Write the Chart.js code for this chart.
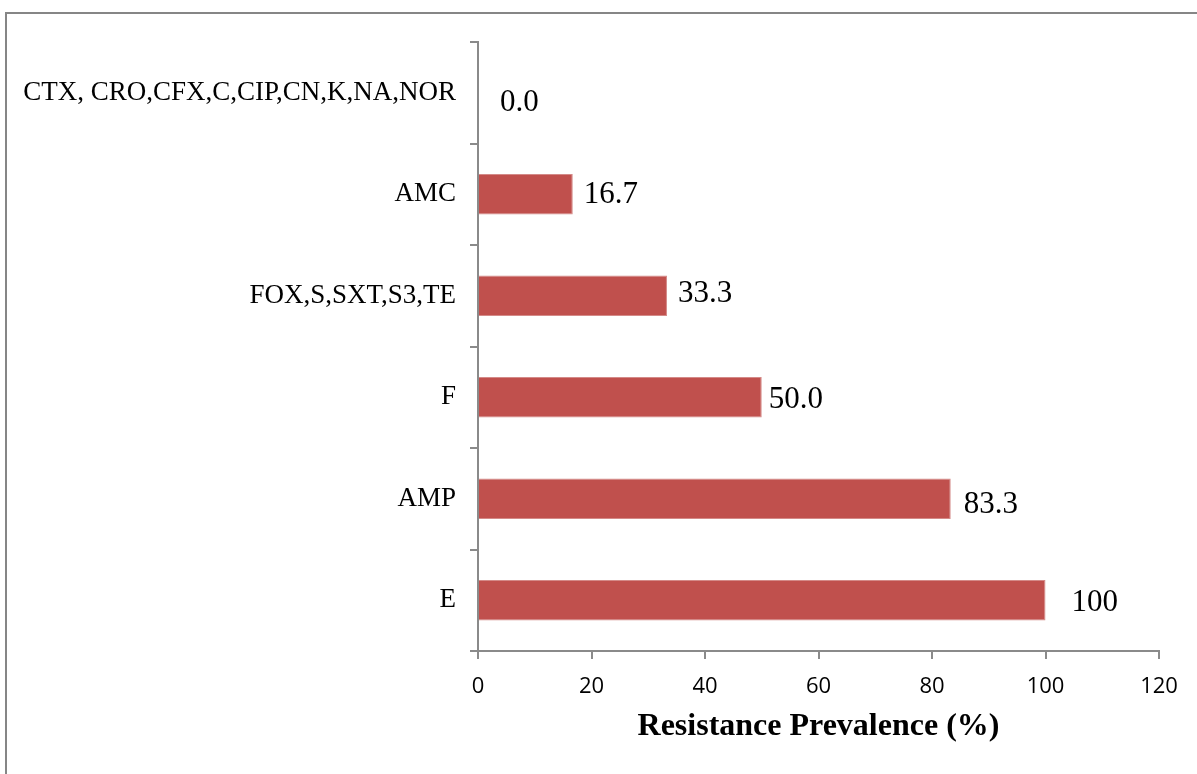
<!DOCTYPE html>
<html>
<head>
<meta charset="utf-8">
<script src="https://cdn.jsdelivr.net/npm/chart.js@4"></script>
<style>
  html, body { margin: 0; padding: 0; background: #fff; overflow: hidden; }
  #frame {
    position: absolute; left: 5px; top: 12px; width: 1250px; height: 850px;
    border: 2px solid #868686; box-sizing: border-box;
  }
  #wrap { position: absolute; left: 0; top: 0; width: 1197px; height: 774px; }
</style>
</head>
<body>
<div id="frame"></div>
<div id="wrap"><canvas id="chart" width="1197" height="774"></canvas></div>
<script>
const antibiotics = ['CTX, CRO,CFX,C,CIP,CN,K,NA,NOR', 'AMC', 'FOX,S,SXT,S3,TE', 'F', 'AMP', 'E'];
const prevalence = [0.0, 16.7, 33.3, 50.0, 83.3, 100];
const xTicks = [0, 20, 40, 60, 80, 100, 120];

// little manual nudges of the value labels, like in the original sheet
const labelNudge = [[22, 10], [11, 1], [11, -2], [7, 3], [13, 6], [26, 3]];

const axisGray = '#8a8a8a';

const valueLabels = {
  id: 'valueLabels',
  afterDatasetsDraw(chart) {
    const ctx = chart.ctx;
    const meta = chart.getDatasetMeta(0);
    ctx.save();
    ctx.font = '31px "Liberation Serif", "Times New Roman", serif';
    ctx.fillStyle = '#000';
    ctx.textAlign = 'left';
    ctx.textBaseline = 'middle';
    meta.data.forEach((bar, i) => {
      const v = prevalence[i];
      const txt = v === 100 ? '100' : v.toFixed(1);
      ctx.fillText(txt, bar.x + labelNudge[i][0], bar.y + labelNudge[i][1]);
    });
    ctx.restore();
  }
};

new Chart(document.getElementById('chart'), {
  type: 'bar',
  data: {
    labels: antibiotics,
    datasets: [{
      data: prevalence,
      backgroundColor: '#C0504D',
      borderColor: '#d48a88',
      borderWidth: 1,
      barPercentage: 0.4,
      categoryPercentage: 1.0
    }]
  },
  options: {
    indexAxis: 'y',
    responsive: false,
    animation: false,
    devicePixelRatio: 1,
    layout: { padding: { top: 42, right: 38, left: 0, bottom: 0 } },
    plugins: {
      legend: { display: false },
      tooltip: { enabled: false }
    },
    scales: {
      x: {
        min: 0,
        max: 120,
        afterBuildTicks(scale) { scale.ticks = xTicks.map(v => ({ value: v })); },
        afterFit(scale) { scale.height = 123; },
        grid: { drawOnChartArea: false, tickLength: 8, color: axisGray, lineWidth: 2 },
        border: { color: axisGray, width: 2 },
        ticks: {
          color: '#000',
          padding: 15,
          font: { family: '"Open Sans", Carlito, sans-serif', size: 22 }
        },
        title: {
          display: true,
          text: 'Resistance Prevalence (%)',
          color: '#000',
          padding: { top: 0, bottom: 28 },
          font: { family: '"Liberation Serif", "Times New Roman", serif', size: 32, weight: 'bold' }
        }
      },
      y: {
        afterFit(scale) { scale.width = 478; },
        grid: { offset: true, drawOnChartArea: false, tickLength: 8, color: axisGray, lineWidth: 2 },
        border: { color: axisGray, width: 2 },
        ticks: {
          color: '#000',
          padding: 14,
          font: { family: '"Liberation Serif", "Times New Roman", serif', size: 27 }
        }
      }
    }
  },
  plugins: [valueLabels]
});
</script>
</body>
</html>
